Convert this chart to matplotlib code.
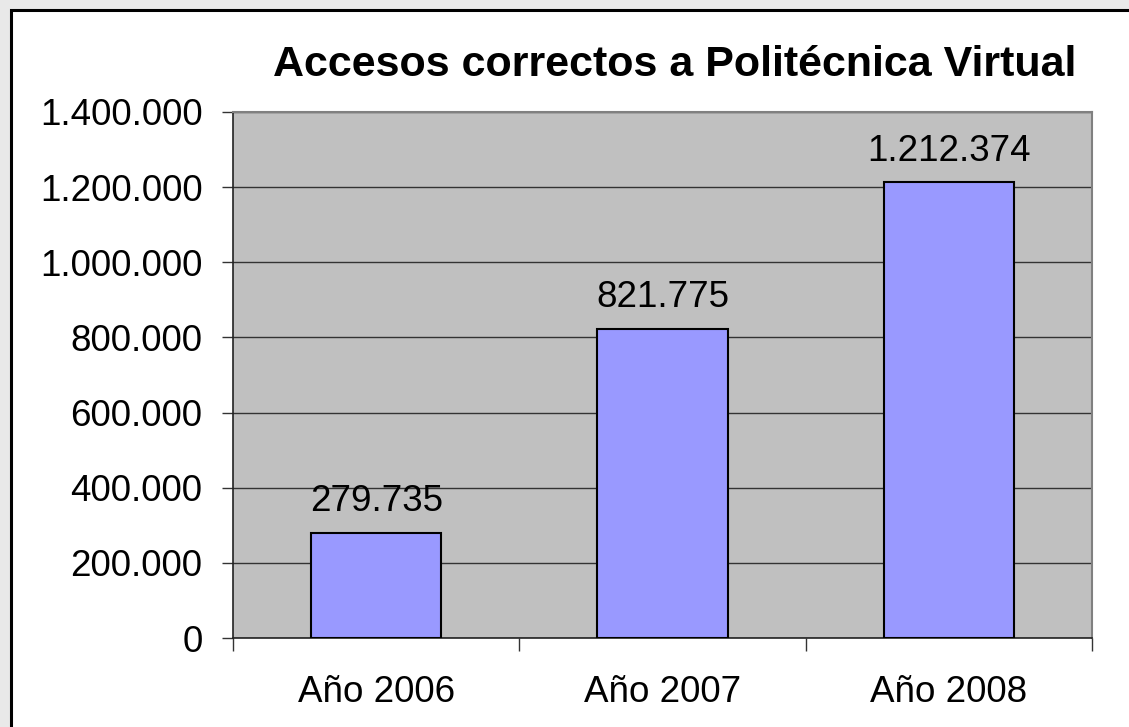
import matplotlib.pyplot as plt
from matplotlib.patches import Rectangle
from matplotlib.ticker import FuncFormatter

categories = ['Año 2006', 'Año 2007', 'Año 2008']
accesos = [279735, 821775, 1212374]
y_ticks = [0, 200000, 400000, 600000, 800000, 1000000, 1200000, 1400000]

W, H = 1129, 727
plt.rcParams['font.family'] = ['Liberation Sans', 'DejaVu Sans']

def miles(v):
    return '{:,}'.format(int(v)).replace(',', '.')

fig = plt.figure(figsize=(W / 100, H / 100), dpi=100)
fig.patch.set_facecolor('#e9e9e9')
# white chart area with black frame (runs off the right/bottom edge)
fig.patches.append(Rectangle((11 / W, -0.05), 1.1, 1 - 10 / H + 0.05, transform=fig.transFigure,
                             facecolor='white', edgecolor='black', linewidth=2.2, zorder=-5))

ax = fig.add_axes([233 / W, (H - 638) / H, (1092 - 233) / W, (638 - 112) / H])
ax.set_facecolor('#c0c0c0')
x = list(range(len(categories)))
ax.bar(x, accesos, width=0.455, color='#9999ff', edgecolor='black', linewidth=1.5, zorder=3)
for xi, v in zip(x, accesos):
    ax.annotate(miles(v), (xi, v), xytext=(0, 10), textcoords='offset points',
                ha='center', va='bottom', fontsize=26.5)

ax.set_xlim(-0.5, 2.5)
ax.set_ylim(0, 1400000)
ax.set_yticks(y_ticks)
ax.yaxis.set_major_formatter(FuncFormatter(lambda v, p: miles(v)))
ax.grid(axis='y', color='#333333', linewidth=1.0, zorder=1)
ax.set_axisbelow(True)

ax.set_xticks(x)
ax.set_xticklabels(categories, fontsize=26.5)
ax.set_xticks([-0.5, 0.5, 1.5, 2.5], minor=True)
ax.tick_params(axis='x', which='major', length=0, pad=27)
ax.tick_params(axis='x', which='minor', length=9, width=1, color='#333333')
ax.tick_params(axis='y', length=8, width=1, labelsize=26.5, pad=14, color='#333333')

for s in ['top', 'right']:
    ax.spines[s].set_color('#808080')
    ax.spines[s].set_linewidth(1.5)
for s in ['left', 'bottom']:
    ax.spines[s].set_color('#222222')
    ax.spines[s].set_linewidth(1.2)

fig.text(675 / W, 1 - 65 / H, 'Accesos correctos a Politécnica Virtual',
         ha='center', va='center', fontsize=31, fontweight='bold')

fig.savefig('out.png', dpi=100, facecolor=fig.get_facecolor())
